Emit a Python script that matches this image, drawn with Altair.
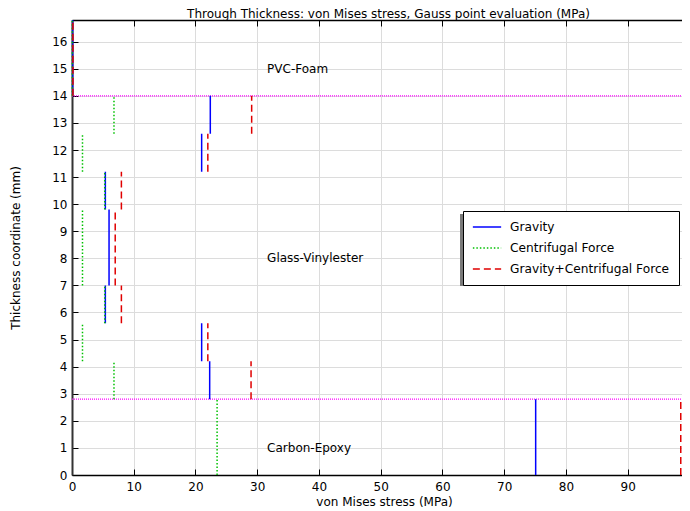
import altair as alt
import pandas as pd

# ---------------- data ----------------
series = ["Gravity", "Centrifugal Force", "Gravity+Centrifugal Force"]
ply_bottom = [0.0, 2.8, 4.2, 5.6, 7.0, 9.8, 11.2, 12.6, 14.0]
ply_top = [2.8, 4.2, 5.6, 7.0, 9.8, 11.2, 12.6, 14.0, 16.8]
gravity = [75.1, 22.3, 21.0, 5.4, 6.0, 5.4, 21.0, 22.4, 0.1]
centrifugal = [23.5, 6.8, 1.7, 5.3, 1.7, 5.3, 1.7, 6.8, 0.05]
combined = [98.6, 29.0, 22.0, 8.0, 7.0, 8.0, 22.0, 29.1, 0.15]

interfaces = [2.8, 14.0]
material_names = ["Carbon-Epoxy", "Glass-Vinylester", "PVC-Foam"]
material_label_y = [1.0, 8.0, 15.0]
material_label_x = [31.6, 31.6, 31.6]

title_text = "Through Thickness: von Mises stress, Gauss point evaluation (MPa)"
x_ticks = [0, 10, 20, 30, 40, 50, 60, 70, 80, 90]
y_ticks = list(range(0, 17))
x_max = 98.8
y_max = 16.8

# ---------------- tables ----------------
rows = []
for s, vals in zip(series, [gravity, centrifugal, combined]):
    for b, t, v in zip(ply_bottom, ply_top, vals):
        rows.append({"series": s, "stress": v, "z0": b, "z1": t})
seg = pd.DataFrame(rows)
iface = pd.DataFrame({"z": interfaces, "x0": [0.0] * len(interfaces), "x1": [x_max] * len(interfaces)})
labels = pd.DataFrame({"name": material_names, "x": material_label_x, "y": material_label_y})
title_df = pd.DataFrame({"t": [title_text]})

W, H = 610, 455
FONT = "DejaVu Sans"
FS = 12
xscale = alt.Scale(domain=[0, x_max], nice=False, zero=False)
yscale = alt.Scale(domain=[0, y_max], nice=False, zero=False)

LX, LY = 391, 191
legend = alt.Legend(
    title=None, orient="none", legendX=LX, legendY=LY,
    symbolType="stroke", symbolSize=800, symbolStrokeWidth=1.5,
    labelFont=FONT, labelFontSize=12.2, labelColor="black", labelOffset=8, labelLimit=400,
    padding=9, rowPadding=7, clipHeight=14, fillColor="white", strokeColor="black",
)
color = alt.Color("series:N", sort=series,
                  scale=alt.Scale(domain=series, range=["#0000ff", "#00c000", "#e00000"]),
                  legend=legend)
dash = alt.StrokeDash("series:N", sort=series,
                      scale=alt.Scale(domain=series, range=[[1, 0], [1.5, 2], [7, 4]]),
                      legend=legend)

# legend drop shadow (decoration)
shadow = alt.Chart(title_df).mark_rect(color="#7a7a7a").encode(
    x=alt.value(LX - 3), x2=alt.value(LX + 216),
    y=alt.value(LY + 3), y2=alt.value(LY + 75),
)

# main data layer with labelled axes and grid
lines = alt.Chart(seg).mark_rule(strokeWidth=1.5).encode(
    x=alt.X("stress:Q", scale=xscale, axis=alt.Axis(
        orient="bottom", values=x_ticks, ticks=False, grid=True, gridColor="#dcdcdc",
        domainColor="black", domainWidth=1.5, labelFont=FONT, labelFontSize=FS,
        labelColor="black", labelPadding=15, labelBaseline="alphabetic", labelFlush=False,
        title="von Mises stress (MPa)", titleFont=FONT, titleFontSize=FS,
        titleFontWeight="normal", titleColor="black", titleX=312, titleY=30,
        titleBaseline="alphabetic")),
    y=alt.Y("z0:Q", scale=yscale, axis=alt.Axis(
        orient="left", values=y_ticks, ticks=False, grid=True, gridColor="#dcdcdc",
        domainColor="#333333", domainWidth=2, labelFont=FONT, labelFontSize=FS,
        labelColor="black", labelPadding=5, labelFlush=False,
        title="Thickness coordinate (mm)", titleFont=FONT, titleFontSize=FS,
        titleFontWeight="normal", titleColor="black", titleX=-57, titleY=H / 2,
        titleAngle=-90, titleBaseline="middle", titleAlign="center")),
    y2="z1:Q",
    color=color,
    strokeDash=dash,
)

# interface lines, also carrying inward ticks at bottom and left
ifc = alt.Chart(iface).mark_rule(color="#ff00ff", strokeWidth=1.2, strokeDash=[1, 1]).encode(
    x=alt.X("x0:Q", scale=xscale, axis=alt.Axis(
        orient="top", offset=-H, values=x_ticks, labels=False, domain=False,
        grid=False, ticks=True, tickSize=6, tickColor="black", title=None)),
    x2="x1:Q",
    y=alt.Y("z:Q", scale=yscale, axis=alt.Axis(
        orient="right", offset=-W, values=y_ticks, labels=False, domain=False,
        grid=False, ticks=True, tickSize=6, tickColor="black", title=None)),
)

# material names, carrying top frame with inward ticks
txt = alt.Chart(labels).mark_text(align="left", baseline="middle", font=FONT,
                                  fontSize=FS, color="black").encode(
    x=alt.X("x:Q", scale=xscale, axis=alt.Axis(
        orient="bottom", offset=-H, values=x_ticks, labels=False, domain=True,
        domainColor="black", domainWidth=1.5, grid=False, ticks=True, tickSize=6,
        tickColor="black", title=None)),
    y=alt.Y("y:Q", scale=yscale, axis=None),
    text="name:N",
)

# chart title as text
ttl = alt.Chart(title_df).mark_text(align="center", baseline="alphabetic", font=FONT,
                                    fontSize=12, color="black").encode(
    x=alt.value(316.5), y=alt.value(-2), text="t:N",
)

chart = alt.layer(shadow, ifc, lines, txt, ttl).resolve_axis(
    x="independent", y="independent"
).properties(
    width=W, height=H,
    autosize="none",
    padding={"left": 64, "top": 12, "right": 0, "bottom": 36},
).configure_view(stroke=None).configure(background="white")

chart.save("out.html", embed_options={"renderer": "svg", "actions": False})
